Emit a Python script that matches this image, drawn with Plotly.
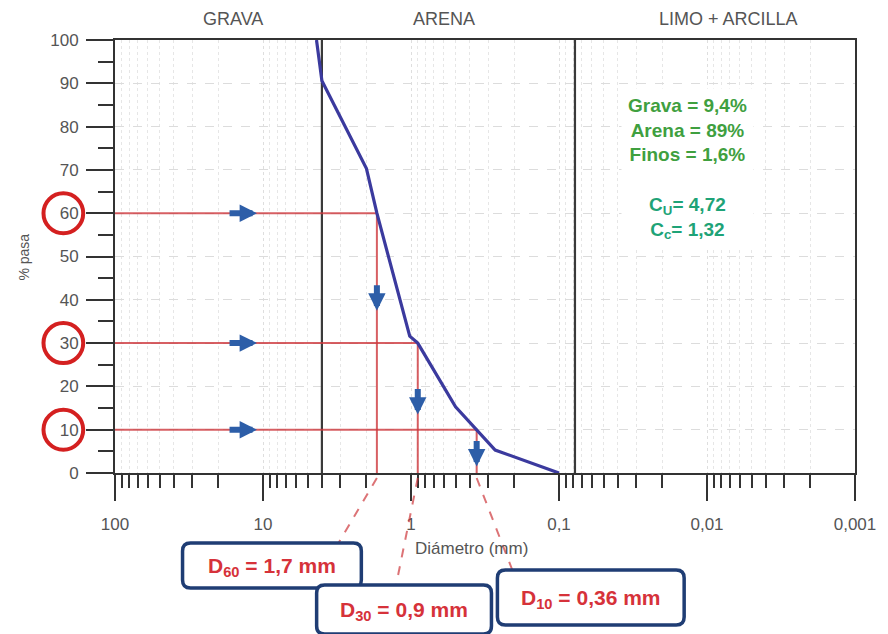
import math
import plotly.graph_objects as go

# ---------------- data ----------------
diametro_mm = [4.35, 4.0, 2.0, 1.7, 1.02, 0.9, 0.5, 0.36, 0.27, 0.1]
pasa_pct = [100, 90.6, 70.3, 60, 31.6, 30, 15.3, 10, 5.3, 0]

d_labels = ["60", "30", "10"]
d_pct = [60, 30, 10]
d_mm = [1.7, 0.9, 0.36]
d_text = ["1,7 mm", "0,9 mm", "0,36 mm"]

limites_mm = [4.0, 0.078]          # GRAVA | ARENA | LIMO + ARCILLA
zonas = ["GRAVA", "ARENA", "LIMO + ARCILLA"]

x_tickvals = [100, 10, 1, 0.1, 0.01, 0.001]
x_ticktext = ["100", "10", "1", "0,1", "0,01", "0,001"]

resumen = ["Grava = 9,4%", "Arena = 89%", "Finos = 1,6%"]
coef = [("U", "4,72"), ("c", "1,32")]

# ---------------- geometry helpers ----------------
W, H = 888, 634
ML, MR, MT, MB = 115, 28, 40, 161
PW, PH = W - ML - MR, H - MT - MB
FONT = "Liberation Sans, Arial, sans-serif"


def px2x(px):
    return (px - ML) / PW


def py2y(py):
    return (H - MB - py) / PH


def mm2paper(d):
    return (2 - math.log10(d)) / 5.0


def rrect(x0, y0, x1, y1, r=8):
    P = lambda a, b: f"{px2x(a):.5f},{py2y(b):.5f}"
    return (f"M {P(x0 + r, y0)} L {P(x1 - r, y0)} Q {P(x1, y0)} {P(x1, y0 + r)} "
            f"L {P(x1, y1 - r)} Q {P(x1, y1)} {P(x1 - r, y1)} L {P(x0 + r, y1)} "
            f"Q {P(x0, y1)} {P(x0, y1 - r)} L {P(x0, y0 + r)} Q {P(x0, y0)} {P(x0 + r, y0)} Z")


def label(text, xp, yp, size, color, **kw):
    d = dict(text=text, x=px2x(xp), y=py2y(yp), xref="paper", yref="paper",
             xanchor="center", yanchor="middle", showarrow=False,
             font=dict(family=FONT, size=size, color=color))
    d.update(kw)
    return d


fig = go.Figure()

# boundary lines between soil fractions
for b in limites_mm:
    fig.add_trace(go.Scatter(x=[b, b], y=[0, 100], mode="lines",
                             line=dict(color="#3a3a3a", width=2.2),
                             hoverinfo="skip", showlegend=False))

# red construction lines
RED = "rgba(205,55,60,0.8)"
for p, d in zip(d_pct, d_mm):
    fig.add_trace(go.Scatter(x=[100, d, d], y=[p, p, 0], mode="lines",
                             line=dict(color=RED, width=2),
                             hoverinfo="skip", showlegend=False))

# grading curve
fig.add_trace(go.Scatter(x=diametro_mm, y=pasa_pct, mode="lines",
                         line=dict(color="#3b3a9e", width=3.2),
                         showlegend=False))

shapes = []
annotations = []

# top zone labels
zone_px = [234, 446, 733]
for name, xp in zip(zonas, zone_px):
    annotations.append(label(name, xp, 19, 18, "#555555"))

# axis titles
annotations.append(label("% pasa", 23, 257, 14, "#555555", textangle=-90))
annotations.append(label("Diámetro (mm)", 474, 548, 17, "#555555"))

# blue arrows
BLUE = "#2d5ea8"
for p in d_pct:
    annotations.append(dict(x=px2x(258), y=p, xref="paper", yref="y", ax=-29, ay=0,
                            text="", showarrow=True, arrowhead=2, arrowsize=0.58,
                            arrowwidth=6, arrowcolor=BLUE, standoff=0))
down_tip = [37.5, 13.5, 1.5]
for d, tip in zip(d_mm, down_tip):
    annotations.append(dict(x=mm2paper(d), y=tip, xref="paper", yref="y", ax=0, ay=-27,
                            text="", showarrow=True, arrowhead=2, arrowsize=0.58,
                            arrowwidth=6, arrowcolor=BLUE, standoff=0))

# red circles around the 60 / 30 / 10 labels
for p in d_pct:
    shapes.append(dict(type="circle", xref="paper", yref="y",
                       x0=px2x(43), x1=px2x(83), y0=p - 20 / 4.33, y1=p + 20 / 4.33,
                       line=dict(color="#d42020", width=4)))

# summary text box
GREEN = "#3fa03f"
TEAL = "#1ea377"
lines = [f"<span style='color:{GREEN}'><b>{t}</b></span>" for t in resumen]
lines.append(" ")
lines += [f"<span style='color:{TEAL}'><b>C<sub>{s}</sub>= {v}</b></span>" for s, v in coef]
annotations.append(label("<br>".join(lines), 691, 168, 19, GREEN,
                         align="center", bgcolor="white", borderpad=6))

# D boxes below the axis
boxes = [(183, 543, 363, 588), (318, 585, 494, 634), (500, 570, 688, 625)]
leader_end = [(340, 543), (398, 585), (515, 570)]
for lab, d, txt, (x0, y0, x1, y1), (ex, ey) in zip(d_labels, d_mm, d_text, boxes, leader_end):
    shapes.append(dict(type="line", xref="paper", yref="paper",
                       x0=mm2paper(d), y0=py2y(478), x1=px2x(ex), y1=py2y(ey),
                       line=dict(color="rgba(205,55,60,0.7)", width=2, dash="dash")))
    shapes.append(dict(type="path", xref="paper", yref="paper", path=rrect(x0, y0, x1, y1),
                       fillcolor="white", line=dict(color="#1f3d74", width=3.5)))
    annotations.append(label(f"<b>D<sub>{lab}</sub> = {txt}</b>", (x0 + x1) / 2, (y0 + y1) / 2 + 1,
                             21, "#d6323a"))

minor_vals = [k * 10 ** e for e in range(-3, 2) for k in range(2, 10)]

fig.update_layout(
    width=W, height=H,
    margin=dict(l=ML, r=MR, t=MT, b=MB, pad=0),
    paper_bgcolor="white", plot_bgcolor="white",
    shapes=shapes, annotations=annotations,
    showlegend=False,
    xaxis=dict(type="log", range=[2, -3], tickmode="array", tickvals=x_tickvals, ticktext=x_ticktext,
               ticks="outside", ticklen=26, tickwidth=2, tickcolor="#333333",
               showline=True, linecolor="#333333", linewidth=2, mirror=True,
               showgrid=True, gridcolor="#dedede", gridwidth=1, griddash="dot",
               ticklabelstandoff=9,
               tickfont=dict(family=FONT, size=17, color="#555555"),
               minor=dict(tickmode="array", tickvals=minor_vals, ticks="outside", ticklen=13,
                          tickwidth=2, tickcolor="#333333", showgrid=True,
                          gridcolor="#e6e6e6", griddash="dot"),
               zeroline=False),
    yaxis=dict(range=[0, 100], tickmode="linear", tick0=0, dtick=10,
               ticks="outside", ticklen=27, tickwidth=2, tickcolor="#333333",
               showline=True, linecolor="#333333", linewidth=2, mirror=True,
               showgrid=True, gridcolor="#dcdcdc", gridwidth=1, griddash="dash",
               ticklabelstandoff=4,
               tickfont=dict(family=FONT, size=17, color="#555555"),
               minor=dict(dtick=5, ticks="outside", ticklen=15, tickwidth=2, tickcolor="#333333"),
               zeroline=False),
)

fig.write_html("out.html")
